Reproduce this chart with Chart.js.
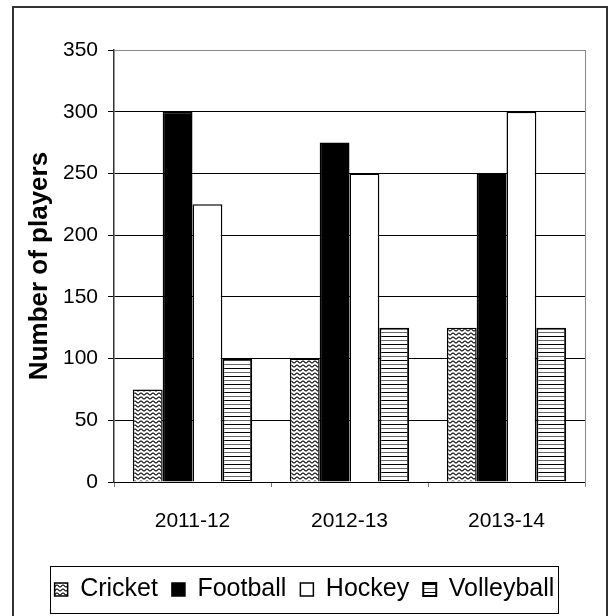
<!DOCTYPE html>
<html>
<head>
<meta charset="utf-8">
<script src="https://cdn.jsdelivr.net/npm/chart.js@4"></script>
<style>
  html, body { margin: 0; padding: 0; background: #ffffff; }
  #wrap { width: 608px; height: 616px; position: relative; }
</style>
</head>
<body>
<div id="wrap"><canvas id="playersChart" width="608" height="616"></canvas></div>
<script>
// Chart data
const seasons = ['2011-12', '2012-13', '2013-14'];
const cricket = [75, 100, 125];
const football = [300, 275, 250];
const hockey = [225, 250, 300];
const volleyball = [100, 125, 125];
const yTicks = [0, 50, 100, 150, 200, 250, 300, 350];

// Fill patterns for the bars
function wavePattern() {
    const c = document.createElement('canvas');
    c.width = 6;
    c.height = 4;
    const g = c.getContext('2d');
    g.fillStyle = '#ffffff';
    g.fillRect(0, 0, 6, 4);
    g.strokeStyle = '#000000';
    g.lineWidth = 1.2;
    g.beginPath();
    g.moveTo(0, 3);
    g.bezierCurveTo(1.5, 3, 1.5, 1, 3, 1);
    g.bezierCurveTo(4.5, 1, 4.5, 3, 6, 3);
    g.stroke();
    return g.createPattern(c, 'repeat');
}

function stripePattern() {
    const c = document.createElement('canvas');
    c.width = 4;
    c.height = 8;
    const g = c.getContext('2d');
    g.fillStyle = '#ffffff';
    g.fillRect(0, 0, 4, 8);
    g.fillStyle = '#000000';
    g.fillRect(0, 0, 4, 1);
    g.fillStyle = '#666666';
    g.fillRect(0, 4, 4, 1);
    return g.createPattern(c, 'repeat');
}

// Outer frame, plot border and legend box
const framePlugin = {
    id: 'frame',
    afterDraw(chart) {
        const ctx = chart.ctx;
        const area = chart.chartArea;
        ctx.save();
        // outer frame (bottom edge falls outside the picture)
        ctx.strokeStyle = '#333333';
        ctx.lineWidth = 2;
        ctx.strokeRect(13, 7, 594, 700);
        // right edge of the plot area
        ctx.strokeStyle = '#888888';
        ctx.lineWidth = 1;
        ctx.beginPath();
        ctx.moveTo(Math.round(area.right) + 0.5, area.top);
        ctx.lineTo(Math.round(area.right) + 0.5, area.bottom + 5);
        ctx.stroke();
        // box around legend items
        const boxes = chart.legend.legendHitBoxes;
        if (boxes && boxes.length) {
            let l = Infinity, r = -Infinity, t = Infinity, b = -Infinity;
            boxes.forEach(h => {
                l = Math.min(l, h.left);
                r = Math.max(r, h.left + h.width);
                t = Math.min(t, h.top);
                b = Math.max(b, h.top + h.height);
            });
            ctx.strokeStyle = '#000000';
            ctx.lineWidth = 1;
            ctx.strokeRect(Math.round(l - 5) + 0.5, Math.round(t - 11) + 0.5,
                Math.round(r - l + 8), Math.round(b - t + 22));
        }
        ctx.restore();
    }
};

const ctx = document.getElementById('playersChart');

const chart = new Chart(ctx, {
    type: 'bar',
    data: {
        labels: seasons,
        datasets: [
            {
                label: 'Cricket',
                data: cricket,
                backgroundColor: wavePattern(),
                borderColor: '#000000',
                borderWidth: 1.5
            },
            {
                label: 'Football',
                data: football,
                backgroundColor: '#000000',
                borderColor: '#000000',
                borderWidth: 1.5
            },
            {
                label: 'Hockey',
                data: hockey,
                backgroundColor: '#ffffff',
                borderColor: '#000000',
                borderWidth: 1.5
            },
            {
                label: 'Volleyball',
                data: volleyball,
                backgroundColor: stripePattern(),
                borderColor: '#000000',
                borderWidth: 2
            }
        ]
    },
    options: {
        responsive: false,
        animation: false,
        devicePixelRatio: 1,
        categoryPercentage: 0.76,
        barPercentage: 1.0,
        layout: {
            padding: { left: 24, right: 23, top: 50, bottom: 4 }
        },
        plugins: {
            tooltip: { enabled: false },
            legend: {
                position: 'bottom',
                labels: {
                    color: '#000000',
                    font: { family: 'Liberation Sans, Arial, sans-serif', size: 25 },
                    boxWidth: 13,
                    boxHeight: 13,
                    padding: 14
                }
            }
        },
        scales: {
            x: {
                grid: {
                    drawOnChartArea: false,
                    tickLength: 5,
                    color: '#777777'
                },
                border: { color: '#000000', width: 1 },
                ticks: {
                    color: '#000000',
                    font: { family: 'Liberation Sans, Arial, sans-serif', size: 21 },
                    padding: 22
                },
                afterFit(scale) {
                    scale.height = 81;
                }
            },
            y: {
                min: 0,
                max: 350,
                afterBuildTicks(scale) {
                    scale.ticks = yTicks.map(v => ({ value: v }));
                },
                grid: {
                    color: ctx => (ctx.tick && ctx.tick.value === 350 ? '#888888' : '#000000'),
                    tickColor: '#000000',
                    tickLength: 6,
                    lineWidth: 1
                },
                border: { color: '#333333', width: 1.5 },
                ticks: {
                    color: '#000000',
                    font: { family: 'Liberation Sans, Arial, sans-serif', size: 21 },
                    padding: 10
                },
                title: {
                    display: true,
                    text: 'Number of players',
                    color: '#000000',
                    font: { family: 'Liberation Sans, Arial, sans-serif', size: 26, weight: 'bold' },
                    padding: 0
                },
                afterFit(scale) {
                    scale.width = 90;
                }
            }
        }
    },
    plugins: [framePlugin]
});
</script>
</body>
</html>
